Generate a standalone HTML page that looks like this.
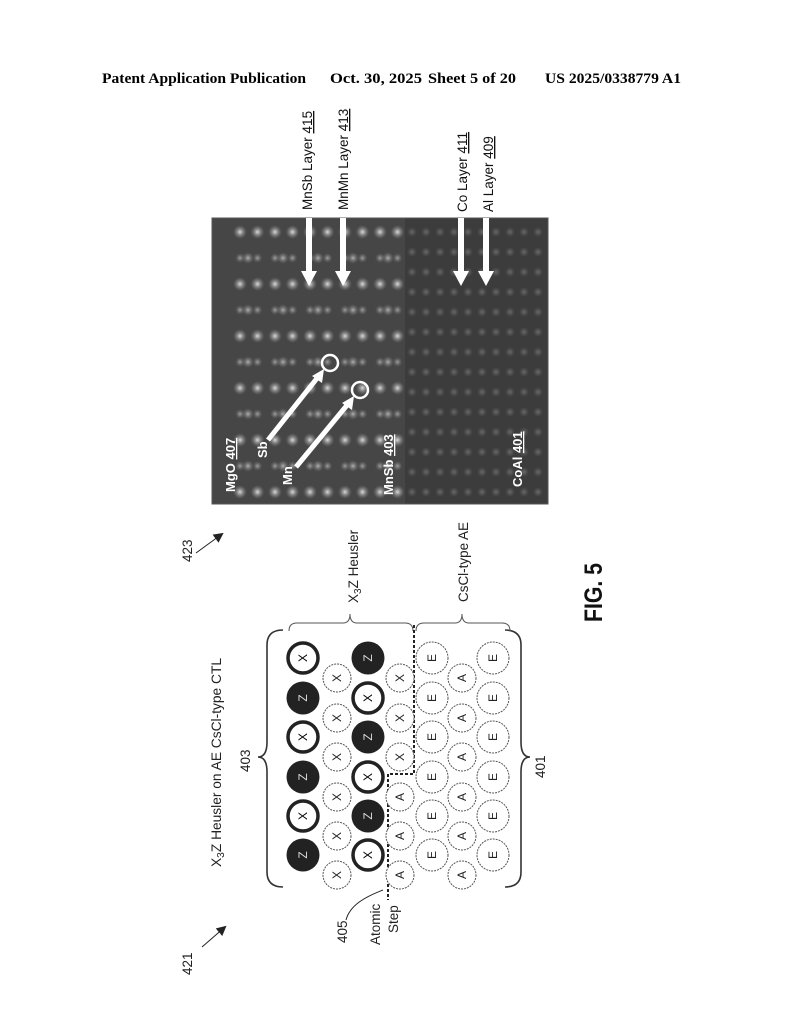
<!DOCTYPE html>
<html><head><meta charset="utf-8"><style>
html,body{margin:0;padding:0;background:#fff}
svg{display:block}
.h{font-family:"Liberation Serif",serif;font-weight:bold;font-size:15px}
.s{font-family:"Liberation Sans",sans-serif}
</style></head><body>
<svg width="794" height="1024" viewBox="0 0 794 1024" xmlns="http://www.w3.org/2000/svg">
<defs>
<radialGradient id="dot"><stop offset="0" stop-color="#eee" stop-opacity="0.9"/><stop offset="0.5" stop-color="#bbb" stop-opacity="0.45"/><stop offset="1" stop-color="#888" stop-opacity="0"/></radialGradient>
<radialGradient id="dot2"><stop offset="0" stop-color="#999" stop-opacity="0.5"/><stop offset="1" stop-color="#777" stop-opacity="0"/></radialGradient>
<pattern id="p1" x="232" y="222" width="17.5" height="52" patternUnits="userSpaceOnUse">
<circle cx="8" cy="10" r="7" fill="url(#dot)"/><circle cx="8" cy="36" r="5" fill="url(#dot)" opacity="0.6"/>
</pattern>
<pattern id="p1b" x="240" y="248" width="35" height="52" patternUnits="userSpaceOnUse">
<circle cx="8" cy="10" r="6" fill="url(#dot)" opacity="0.7"/>
</pattern>
<pattern id="p2" x="405" y="222" width="14" height="20" patternUnits="userSpaceOnUse">
<circle cx="7" cy="10" r="5" fill="url(#dot2)"/>
</pattern>
<marker id="ah" markerWidth="10" markerHeight="10" refX="8" refY="5" orient="auto" markerUnits="userSpaceOnUse"><path d="M0,0 L10,5 L0,10 z" fill="#222"/></marker>
</defs>

<text class="h" x="102" y="83" textLength="204" lengthAdjust="spacingAndGlyphs">Patent Application Publication</text>
<text class="h" x="330" y="83" textLength="92" lengthAdjust="spacingAndGlyphs">Oct. 30, 2025</text>
<text class="h" x="428" y="83" textLength="88" lengthAdjust="spacingAndGlyphs">Sheet 5 of 20</text>
<text class="h" x="545" y="83" textLength="136" lengthAdjust="spacingAndGlyphs">US 2025/0338779 A1</text>

<!-- photo -->
<rect x="212" y="218" width="336" height="286" fill="#3c3c3c"/>
<rect x="212" y="218" width="193" height="286" fill="#464646"/>
<rect x="232" y="222" width="172" height="280" fill="url(#p1)"/>
<rect x="232" y="222" width="172" height="280" fill="url(#p1b)"/>
<rect x="405" y="222" width="140" height="280" fill="url(#p2)"/>
<rect x="212" y="218" width="336" height="286" fill="none" stroke="#555" stroke-width="1"/>

<!-- top labels -->
<g class="s" font-size="13.5" fill="#111">
<text transform="translate(312,210) rotate(-90)">MnSb Layer <tspan text-decoration="underline">415</tspan></text>
<text transform="translate(348,210) rotate(-90)">MnMn Layer <tspan text-decoration="underline">413</tspan></text>
<text transform="translate(467,212) rotate(-90)">Co Layer <tspan text-decoration="underline">411</tspan></text>
<text transform="translate(493,212) rotate(-90)">Al Layer <tspan text-decoration="underline">409</tspan></text>
</g>
<g fill="#fff">
<rect x="306" y="218" width="6" height="55"/><path d="M301,271 L317,271 L309,286 z"/>
<rect x="340" y="218" width="6" height="55"/><path d="M335,271 L351,271 L343,286 z"/>
<rect x="458" y="218" width="6" height="55"/><path d="M453,271 L469,271 L461,286 z"/>
<rect x="483" y="218" width="6" height="55"/><path d="M478,271 L494,271 L486,286 z"/>
</g>
<!-- photo arrows -->
<g stroke="#fff" fill="none">
<circle cx="330" cy="363" r="8" stroke-width="2.5"/>
<circle cx="360" cy="390" r="8" stroke-width="2.5"/>
<line x1="268" y1="440" x2="318" y2="377" stroke-width="5"/>
<line x1="296" y1="467" x2="348" y2="404" stroke-width="5"/>
</g>
<g fill="#fff">
<path d="M324,369 L312,376 L322,383 z"/>
<path d="M354,396 L342,403 L352,410 z"/>
</g>
<g class="s" font-size="13" font-weight="bold" fill="#fff">
<text transform="translate(235,492) rotate(-90)">MgO <tspan text-decoration="underline">407</tspan></text>
<text transform="translate(267,458) rotate(-90)">Sb</text>
<text transform="translate(292,485) rotate(-90)">Mn</text>
<text transform="translate(393,495) rotate(-90)">MnSb <tspan text-decoration="underline">403</tspan></text>
<text transform="translate(522,487) rotate(-90)">CoAl <tspan text-decoration="underline">401</tspan></text>
</g>

<!-- ref numerals / labels -->
<g class="s" font-size="13.5" fill="#222">
<text transform="translate(192,562) rotate(-90)">423</text>
<text transform="translate(192,975) rotate(-90)">421</text>
<text transform="translate(221,867) rotate(-90)" textLength="209" lengthAdjust="spacingAndGlyphs">X<tspan font-size="10" dy="3">3</tspan><tspan dy="-3">Z Heusler on AE CsCl-type CTL</tspan></text>
<text transform="translate(250,772) rotate(-90)">403</text>
<text transform="translate(545,778) rotate(-90)">401</text>
<text transform="translate(358,603) rotate(-90)">X<tspan font-size="10" dy="3">3</tspan><tspan dy="-3">Z Heusler</tspan></text>
<text transform="translate(468,602) rotate(-90)" textLength="80" lengthAdjust="spacingAndGlyphs">CsCl-type AE</text>
<text transform="translate(347,943) rotate(-90)">405</text>
<text transform="translate(380,945) rotate(-90)">Atomic</text>
<text transform="translate(398,933) rotate(-90)">Step</text>
</g>
<text class="s" font-size="25" font-weight="bold" fill="#111" transform="translate(602,622) rotate(-90)" textLength="59" lengthAdjust="spacingAndGlyphs">FIG. 5</text>

<g stroke="#222" stroke-width="1" fill="none">
<line x1="196" y1="553" x2="222" y2="534" marker-end="url(#ah)"/>
<line x1="202" y1="947" x2="225" y2="927" marker-end="url(#ah)"/>
<path d="M346,920 C350,905 365,897 383,890"/>
</g>

<!-- braces -->
<g stroke="#333" stroke-width="1.6" fill="none">
<path d="M283,630 Q267,630 267,645 L267,742 Q267,757 258,757 Q267,757 267,772 L267,872 Q267,887 283,887"/>
<path d="M505,630 Q521,630 521,645 L521,742 Q521,757 530,757 Q521,757 521,772 L521,872 Q521,887 505,887"/>
</g>
<g stroke="#555" stroke-width="1" fill="none">
<path d="M289,631 Q289,623 297,623 L343,623 Q350,623 350,614 Q350,623 357,623 L405,623 Q413,623 413,631"/>
<path d="M416,631 Q416,623 424,623 L455,623 Q462,623 462,614 Q462,623 469,623 L502,623 Q510,623 510,631"/>
</g>

<g stroke="#222" stroke-width="2" stroke-dasharray="3,2" fill="none">
<path d="M414,625 L414,774 L388,774 L388,900"/>
</g>

<g font-family="Liberation Sans,sans-serif" font-size="12" text-anchor="middle">
<g transform="translate(303,658)"><circle r="15" fill="#fff" stroke="#222" stroke-width="3.5"/><text transform="rotate(-90)" y="4">X</text></g>
<g transform="translate(303,698)"><circle r="16.5" fill="#222"/><text transform="rotate(-90)" y="4" fill="#ddd">Z</text></g>
<g transform="translate(303,737)"><circle r="15" fill="#fff" stroke="#222" stroke-width="3.5"/><text transform="rotate(-90)" y="4">X</text></g>
<g transform="translate(303,777)"><circle r="16.5" fill="#222"/><text transform="rotate(-90)" y="4" fill="#ddd">Z</text></g>
<g transform="translate(303,816)"><circle r="15" fill="#fff" stroke="#222" stroke-width="3.5"/><text transform="rotate(-90)" y="4">X</text></g>
<g transform="translate(303,855)"><circle r="16.5" fill="#222"/><text transform="rotate(-90)" y="4" fill="#ddd">Z</text></g>
<g transform="translate(368,658)"><circle r="16.5" fill="#222"/><text transform="rotate(-90)" y="4" fill="#ddd">Z</text></g>
<g transform="translate(368,698)"><circle r="15" fill="#fff" stroke="#222" stroke-width="3.5"/><text transform="rotate(-90)" y="4">X</text></g>
<g transform="translate(368,737)"><circle r="16.5" fill="#222"/><text transform="rotate(-90)" y="4" fill="#ddd">Z</text></g>
<g transform="translate(368,777)"><circle r="15" fill="#fff" stroke="#222" stroke-width="3.5"/><text transform="rotate(-90)" y="4">X</text></g>
<g transform="translate(368,816)"><circle r="16.5" fill="#222"/><text transform="rotate(-90)" y="4" fill="#ddd">Z</text></g>
<g transform="translate(368,855)"><circle r="15" fill="#fff" stroke="#222" stroke-width="3.5"/><text transform="rotate(-90)" y="4">X</text></g>
<g fill="#fff" stroke="#555" stroke-width="1" stroke-dasharray="2,1">
<circle cx="337" cy="678" r="14"/><circle cx="337" cy="718" r="14"/><circle cx="337" cy="757" r="14"/><circle cx="337" cy="797" r="14"/><circle cx="337" cy="836" r="14"/><circle cx="337" cy="875" r="14"/>
<circle cx="400" cy="678" r="14"/><circle cx="400" cy="718" r="14"/><circle cx="400" cy="757" r="14"/><circle cx="400" cy="797" r="14"/><circle cx="400" cy="836" r="14"/><circle cx="400" cy="875" r="14"/>
<circle cx="462" cy="678" r="14"/><circle cx="462" cy="718" r="14"/><circle cx="462" cy="757" r="14"/><circle cx="462" cy="797" r="14"/><circle cx="462" cy="836" r="14"/><circle cx="462" cy="875" r="14"/>
<circle cx="432" cy="658" r="16"/><circle cx="432" cy="698" r="16"/><circle cx="432" cy="737" r="16"/><circle cx="432" cy="777" r="16"/><circle cx="432" cy="816" r="16"/><circle cx="432" cy="855" r="16"/>
<circle cx="493" cy="658" r="16"/><circle cx="493" cy="698" r="16"/><circle cx="493" cy="737" r="16"/><circle cx="493" cy="777" r="16"/><circle cx="493" cy="816" r="16"/><circle cx="493" cy="855" r="16"/>
</g>
<g fill="#222">
<text transform="translate(341,678) rotate(-90)">X</text><text transform="translate(341,718) rotate(-90)">X</text><text transform="translate(341,757) rotate(-90)">X</text><text transform="translate(341,797) rotate(-90)">X</text><text transform="translate(341,836) rotate(-90)">X</text><text transform="translate(341,875) rotate(-90)">X</text>
<text transform="translate(404,678) rotate(-90)">X</text><text transform="translate(404,718) rotate(-90)">X</text><text transform="translate(404,757) rotate(-90)">X</text><text transform="translate(404,797) rotate(-90)">A</text><text transform="translate(404,836) rotate(-90)">A</text><text transform="translate(404,875) rotate(-90)">A</text>
<text transform="translate(466,678) rotate(-90)">A</text><text transform="translate(466,718) rotate(-90)">A</text><text transform="translate(466,757) rotate(-90)">A</text><text transform="translate(466,797) rotate(-90)">A</text><text transform="translate(466,836) rotate(-90)">A</text><text transform="translate(466,875) rotate(-90)">A</text>
<text transform="translate(436,658) rotate(-90)">E</text><text transform="translate(436,698) rotate(-90)">E</text><text transform="translate(436,737) rotate(-90)">E</text><text transform="translate(436,777) rotate(-90)">E</text><text transform="translate(436,816) rotate(-90)">E</text><text transform="translate(436,855) rotate(-90)">E</text>
<text transform="translate(497,658) rotate(-90)">E</text><text transform="translate(497,698) rotate(-90)">E</text><text transform="translate(497,737) rotate(-90)">E</text><text transform="translate(497,777) rotate(-90)">E</text><text transform="translate(497,816) rotate(-90)">E</text><text transform="translate(497,855) rotate(-90)">E</text>
</g>
</g>
</svg>
</body></html>
